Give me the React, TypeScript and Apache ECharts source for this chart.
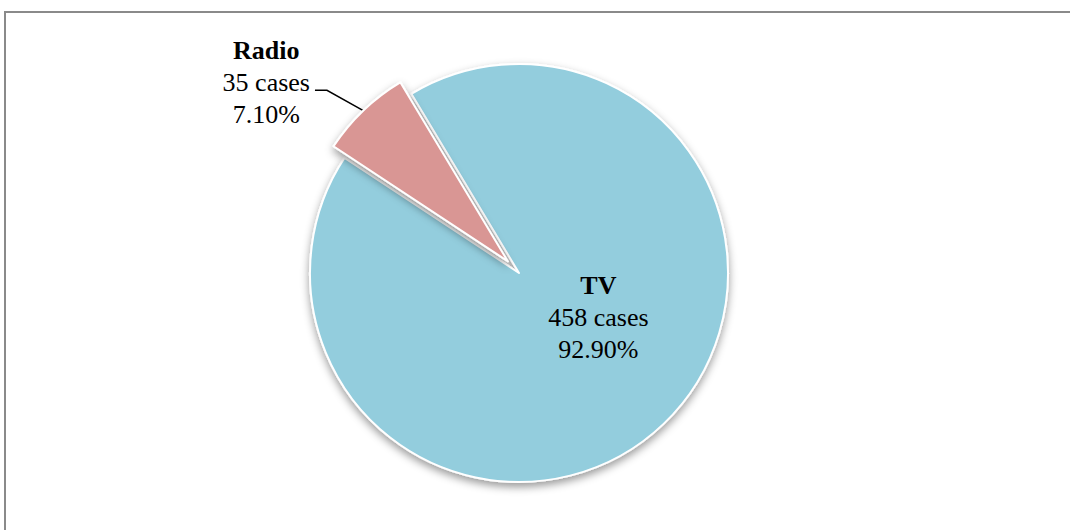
import React, { useEffect, useRef } from 'react';
import * as echarts from 'echarts';

const categories = ['TV', 'Radio'];
const caseCounts = [458, 35];
const sliceColors = ['#93CDDD', '#D99694'];

export default function App() {
  const ref = useRef<HTMLDivElement>(null);
  useEffect(() => {
    document.body.style.margin = '0';
    const chart = echarts.init(ref.current as HTMLDivElement, null, { renderer: 'svg' });
    const font = "'Liberation Serif', 'Times New Roman', serif";
    const rich = {
      b: { fontFamily: font, fontWeight: 'bold', fontSize: 26, lineHeight: 32, color: '#000', align: 'center' },
      n: { fontFamily: font, fontWeight: 'normal', fontSize: 26, lineHeight: 32, color: '#000', align: 'center' },
    };
    const fmt = (p: any) => `{b|${p.name}}\n{n|${p.value} cases}\n{n|${Number(p.percent).toFixed(2)}%}`;
    const data = categories.map((name, i) => ({
      name,
      value: caseCounts[i],
      selected: i === 1,
      itemStyle: { color: sliceColors[i] },
      label: i === 0 ? { position: 'inside' } : { position: 'outside', padding: [0, 0, 16, 0] },
      labelLine: { show: i === 1 },
    }));
    chart.setOption({
      animation: false,
      backgroundColor: '#fff',
      graphic: [
        { type: 'line', shape: { x1: 4, y1: 12, x2: 1070, y2: 12 }, style: { stroke: '#8a8a8a', lineWidth: 2 } },
        { type: 'line', shape: { x1: 5, y1: 11, x2: 5, y2: 530 }, style: { stroke: '#8a8a8a', lineWidth: 2 } },
      ],
      series: [
        {
          type: 'pie',
          center: [519, 273],
          radius: 209,
          startAngle: 121,
          clockwise: true,
          selectedMode: 'single',
          selectedOffset: 16,
          percentPrecision: 2,
          avoidLabelOverlap: false,
          data,
          itemStyle: {
            borderColor: '#fff',
            borderWidth: 2,
            shadowBlur: 9,
            shadowColor: 'rgba(0,0,0,0.4)',
            shadowOffsetY: 4,
          },
          select: { itemStyle: { borderColor: '#fff', borderWidth: 2 } },
          emphasis: { disabled: true },
          label: { formatter: fmt, rich, color: '#000', fontFamily: font, fontSize: 26 },
          labelLine: { length: 28, length2: 29, lineStyle: { color: '#000', width: 1.5 } },
          labelLayout: (p: any) => {
            if (p.dataIndex === 0) return { dx: 5, dy: -33 };
            const pts = p.labelLinePoints;
            if (pts && pts.length === 3) {
              return {
                labelLinePoints: [pts[0], [pts[2][0] + 12, pts[2][1]], pts[2]],
              };
            }
            return {};
          },
        },
      ],
    });
    return () => chart.dispose();
  }, []);
  return <div ref={ref} style={{ width: 1070, height: 530 }} />;
}
